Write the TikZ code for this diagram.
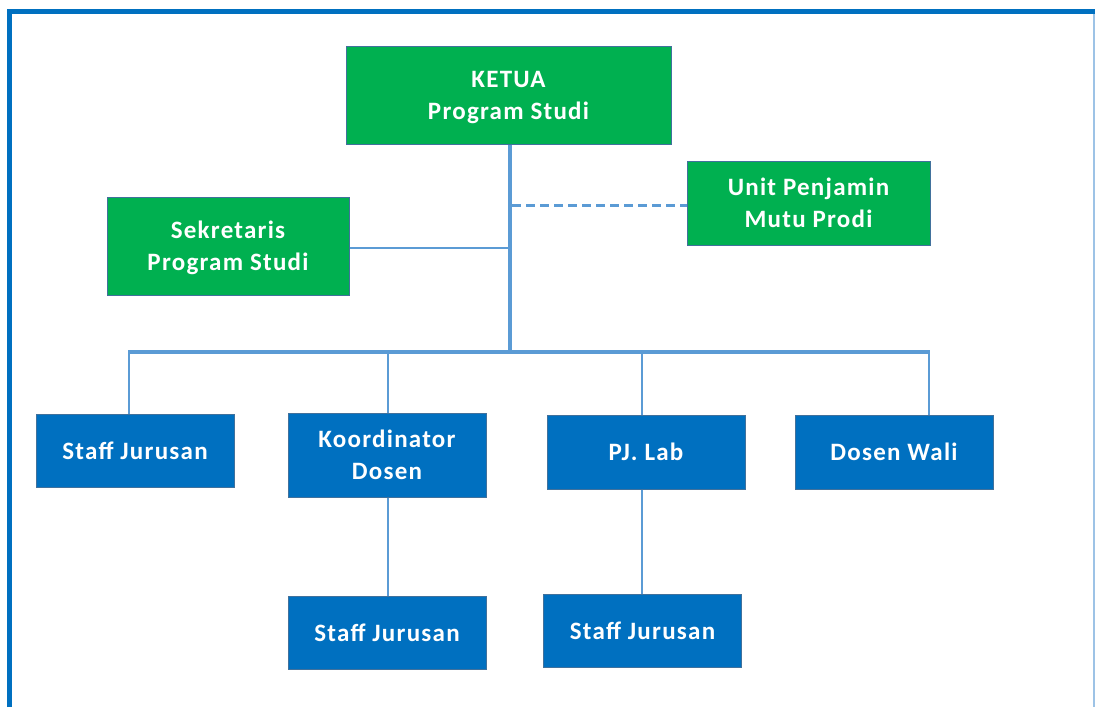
\documentclass[tikz,border=0pt]{standalone}
\usepackage{fontspec}
\setmainfont{Carlito}[LetterSpace=5]
\definecolor{boxgreen}{HTML}{00B050}
\definecolor{boxblue}{HTML}{0070C0}
\definecolor{boxedge}{HTML}{41719C}
\definecolor{linkblue}{HTML}{5B9BD5}
\definecolor{framebl}{HTML}{0070C0}
\definecolor{framelt}{HTML}{9DC3E6}
\tikzset{
  unitbox/.style={draw=boxedge, line width=1pt, text=white, align=center,
    font=\fontsize{25}{32}\selectfont\bfseries, inner sep=0pt, text depth=0pt},
  greenbox/.style={unitbox, fill=boxgreen},
  bluebox/.style={unitbox, fill=boxblue},
  trunk/.style={draw=linkblue, line width=4pt},
  branch/.style={draw=linkblue, line width=1.8pt},
  dotlink/.style={draw=linkblue, line width=3pt, dash pattern=on 9pt off 5pt}
}
\begin{document}
\begin{tikzpicture}[x=1pt, y=-1pt]
  \useasboundingbox (0,0) rectangle (1095,707);
  \fill[white] (0,0) rectangle (1095,707);

  % page frame
  \draw[framebl, line width=5pt] (9.5,707) -- (9.5,11.5) -- (1095,11.5);
  \draw[framelt, line width=1.5pt] (1094,14) -- (1094,707);

  % management
  \node[greenbox, minimum width=325pt, minimum height=98pt] (ketua) at (508.5,95) {KETUA\\Program Studi};
  \node[greenbox, minimum width=242pt, minimum height=98pt] (sek) at (228,246) {Sekretaris\\Program Studi};
  \node[greenbox, minimum width=243pt, minimum height=84pt] (upm) at (808.5,203) {Unit Penjamin\\Mutu Prodi};

  % units
  \node[bluebox, minimum width=198pt, minimum height=73pt] (staffa) at (135,450.5) {Staff Jurusan};
  \node[bluebox, minimum width=198pt, minimum height=84pt] (koord) at (387,455) {Koordinator\\Dosen};
  \node[bluebox, minimum width=198pt, minimum height=74pt] (lab) at (646,452) {PJ. Lab};
  \node[bluebox, minimum width=198pt, minimum height=74pt] (wali) at (894,452) {Dosen Wali};
  \node[bluebox, minimum width=198pt, minimum height=73pt] (staffb) at (387,632.5) {Staff Jurusan};
  \node[bluebox, minimum width=198pt, minimum height=73pt] (staffc) at (642.5,630.5) {Staff Jurusan};

  % connector points
  \coordinate (hub) at (510,352);
  \coordinate (barl) at (128,352);
  \coordinate (barr) at (930,352);
  \coordinate (dropa) at (129,352);
  \coordinate (dropb) at (388,352);
  \coordinate (dropc) at (642,352);
  \coordinate (dropd) at (929,352);
  \coordinate (sekj) at (510,248);
  \coordinate (upmj) at (512,205);

  % connectors
  \draw[branch] (dropa) -- (dropa |- staffa.north);
  \draw[branch] (dropb) -- (dropb |- koord.north);
  \draw[branch] (dropc) -- (dropc |- lab.north);
  \draw[branch] (dropd) -- (dropd |- wali.north);
  \draw[branch] (sek.east |- sekj) -- (sekj);
  \draw[dotlink] (upmj) -- (upm.west |- upmj);
  \draw[branch] (koord.south -| dropb) -- (staffb.north -| dropb);
  \draw[branch] (lab.south -| dropc) -- (staffc.north -| dropc);
  \draw[trunk] (barl) -- (barr);
  \draw[trunk] (ketua.south -| hub) -- (hub);
\end{tikzpicture}
\end{document}
